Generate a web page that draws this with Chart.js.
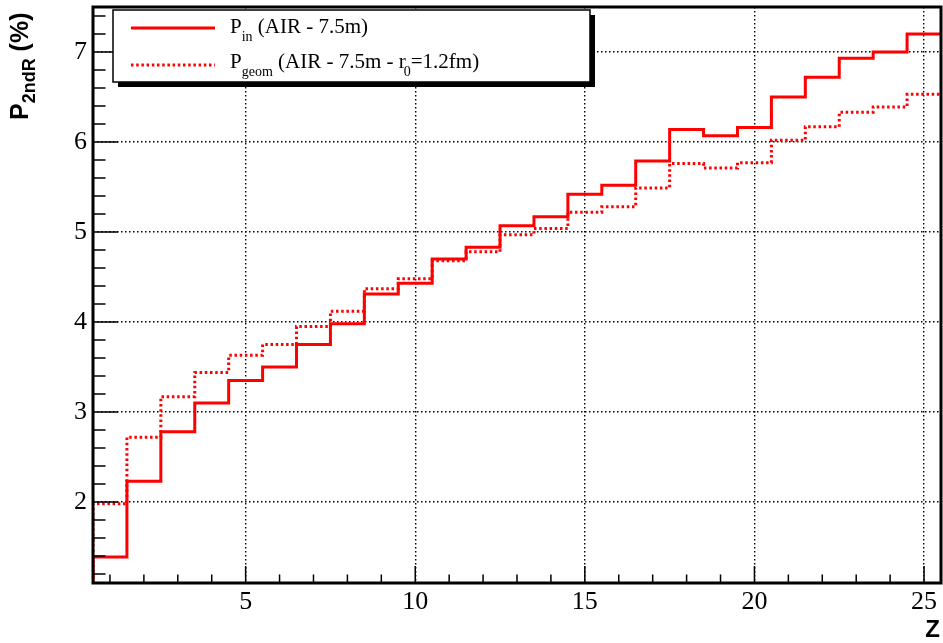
<!DOCTYPE html>
<html>
<head>
<meta charset="utf-8">
<script src="https://cdn.jsdelivr.net/npm/chart.js@4/dist/chart.umd.min.js"></script>
<style>
  html, body { margin: 0; padding: 0; background: #fff; }
</style>
</head>
<body>
<canvas id="chart" width="943" height="643"></canvas>
<script>
// Bin centres (Z) and the two step histograms, in percent.
const Z = [1, 2, 3, 4, 5, 6, 7, 8, 9, 10, 11, 12, 13, 14, 15, 16, 17, 18, 19, 20, 21, 22, 23, 24, 25];
const P_IN = [1.39, 2.23, 2.78, 3.10, 3.35, 3.50, 3.75, 3.98, 4.31, 4.43, 4.70, 4.83, 5.07,
  5.17, 5.42, 5.52, 5.79, 6.14, 6.07, 6.16, 6.50, 6.72, 6.93, 7.00, 7.20];
const P_GEOM = [1.98, 2.72, 3.17, 3.44, 3.63, 3.75, 3.95, 4.12, 4.37, 4.48, 4.68, 4.78, 4.97,
  5.04, 5.22, 5.28, 5.49, 5.76, 5.71, 5.77, 6.02, 6.17, 6.33, 6.39, 6.53];

const X_TICKS = [5, 10, 15, 20, 25];
const Y_TICKS = [2, 3, 4, 5, 6, 7];
const X_MIN = 0.5, X_MAX = 25.5;
const Y_MIN = 1.1, Y_MAX = 7.5;

const RED = "#ff0000";
const SERIF = "'Liberation Serif', 'Times New Roman', serif";
const SANS = "'Liberation Sans', Arial, sans-serif";
const DOTS = [2.5, 2.7];
const GRID_DOTS = [1.5, 2.5];

// ROOT-style histogram outline: rises from the baseline, one flat step per bin.
function histPoints(vals) {
  const pts = [{ x: Z[0] - 0.5, y: Y_MIN }];
  vals.forEach((v, i) => pts.push({ x: Z[i] - 0.5, y: v }));
  pts.push({ x: Z[Z.length - 1] + 0.5, y: vals[vals.length - 1] });
  return pts;
}

// Draws text pieces in sequence; sub pieces are smaller and dropped.
function richText(ctx, x, y, parts, size, subSize, drop, weight) {
  for (const p of parts) {
    const fs = p.sub ? subSize : size;
    ctx.font = `${weight} ${fs}px ${p.family}`;
    ctx.fillText(p.t, x + (p.dx || 0), y + (p.sub ? drop : 0));
    x += ctx.measureText(p.t).width + (p.dx || 0);
  }
}

// no label overhang padding: the plot frame sits at fixed offsets
function noPad(s) {
  s.paddingTop = 0; s.paddingBottom = 0;
  s.paddingLeft = 0; s.paddingRight = 0;
}

const rootFrame = {
  id: "rootFrame",
  afterDraw(chart) {
    const { ctx, chartArea: a, scales } = chart;
    const xs = scales.x, ys = scales.y;
    ctx.save();

    // inward ticks on the bottom and left axes
    ctx.strokeStyle = "#000";
    ctx.lineWidth = 1.5;
    ctx.beginPath();
    for (let v = 1; v <= 25; v++) {
      const px = xs.getPixelForValue(v);
      const len = X_TICKS.includes(v) ? 17 : 8.5;
      ctx.moveTo(px, a.bottom);
      ctx.lineTo(px, a.bottom - len);
    }
    for (let k = 6; k <= 37; k++) {
      const v = k / 5;
      const py = ys.getPixelForValue(v);
      const len = k % 5 === 0 ? 25 : 12.5;
      ctx.moveTo(a.left, py);
      ctx.lineTo(a.left + len, py);
    }
    ctx.stroke();

    // frame
    ctx.lineWidth = 3;
    ctx.strokeRect(a.left, a.top, a.right - a.left, a.bottom - a.top);

    // legend box with drop shadow
    const bx = 113, by = 10, bw = 477, bh = 72;
    ctx.fillStyle = "#000";
    ctx.fillRect(bx + 5, by + 5, bw, bh);
    ctx.fillStyle = "#fff";
    ctx.fillRect(bx, by, bw, bh);
    ctx.lineWidth = 1.5;
    ctx.strokeRect(bx, by, bw, bh);

    ctx.lineWidth = 3;
    ctx.strokeStyle = RED;
    ctx.beginPath();
    ctx.moveTo(131, 28); ctx.lineTo(215, 28);
    ctx.stroke();
    ctx.setLineDash(DOTS);
    ctx.beginPath();
    ctx.moveTo(131, 65); ctx.lineTo(215, 65);
    ctx.stroke();
    ctx.setLineDash([]);

    ctx.fillStyle = "#000";
    ctx.textAlign = "left";
    ctx.textBaseline = "alphabetic";
    richText(ctx, 230, 33, [
      { t: "P", family: SERIF },
      { t: "in", sub: true, family: SERIF },
      { t: " (AIR - 7.5m)", family: SERIF },
    ], 21, 14, 8, "normal");
    richText(ctx, 230, 68, [
      { t: "P", family: SERIF },
      { t: "geom", sub: true, family: SERIF },
      { t: " (AIR - 7.5m - r", family: SERIF },
      { t: "0", sub: true, family: SERIF, dx: -2 },
      { t: "=1.2fm)", family: SERIF },
    ], 21, 14, 8, "normal");

    // y axis title, rotated, reading upwards
    ctx.save();
    ctx.translate(28, 120);
    ctx.rotate(-Math.PI / 2);
    richText(ctx, 0, 0, [
      { t: "P", family: SANS },
      { t: "2ndR", sub: true, family: SANS },
      { t: " (%)", family: SANS },
    ], 25, 18, 7, "bold");
    ctx.restore();

    // x axis title
    ctx.font = `bold 24px ${SANS}`;
    ctx.textAlign = "right";
    ctx.fillText("Z", 940, 637);

    ctx.restore();
  },
};

new Chart(document.getElementById("chart"), {
  type: "line",
  data: {
    datasets: [
      {
        label: "P_in (AIR - 7.5m)",
        data: histPoints(P_IN),
        borderColor: RED, borderWidth: 3,
        stepped: "before", pointRadius: 0, fill: false,
      },
      {
        label: "P_geom (AIR - 7.5m - r_0=1.2fm)",
        data: histPoints(P_GEOM),
        borderColor: RED, borderWidth: 3, borderDash: DOTS,
        stepped: "before", pointRadius: 0, fill: false,
      },
    ],
  },
  options: {
    responsive: false,
    animation: false,
    events: [],
    layout: { padding: { top: 7, right: 2, left: 0, bottom: 0 } },
    plugins: { legend: { display: false }, tooltip: { enabled: false } },
    scales: {
      x: {
        type: "linear", min: X_MIN, max: X_MAX,
        afterBuildTicks: (s) => { s.ticks = X_TICKS.map((v) => ({ value: v })); },
        afterFit: (s) => { s.height = 60; noPad(s); },
        grid: { color: "#000", lineWidth: 1.4, drawTicks: false },
        border: { display: false, dash: GRID_DOTS },
        ticks: {
          color: "#000", font: { family: SERIF, size: 26 },
          padding: 4, maxRotation: 0, autoSkip: false,
        },
      },
      y: {
        type: "linear", min: Y_MIN, max: Y_MAX,
        afterBuildTicks: (s) => { s.ticks = Y_TICKS.map((v) => ({ value: v })); },
        afterFit: (s) => { s.width = 93; noPad(s); },
        grid: { color: "#000", lineWidth: 1.4, drawTicks: false },
        border: { display: false, dash: GRID_DOTS },
        ticks: {
          color: "#000", font: { family: SERIF, size: 26 },
          padding: 6,
        },
      },
    },
  },
  plugins: [rootFrame],
});
</script>
</body>
</html>
